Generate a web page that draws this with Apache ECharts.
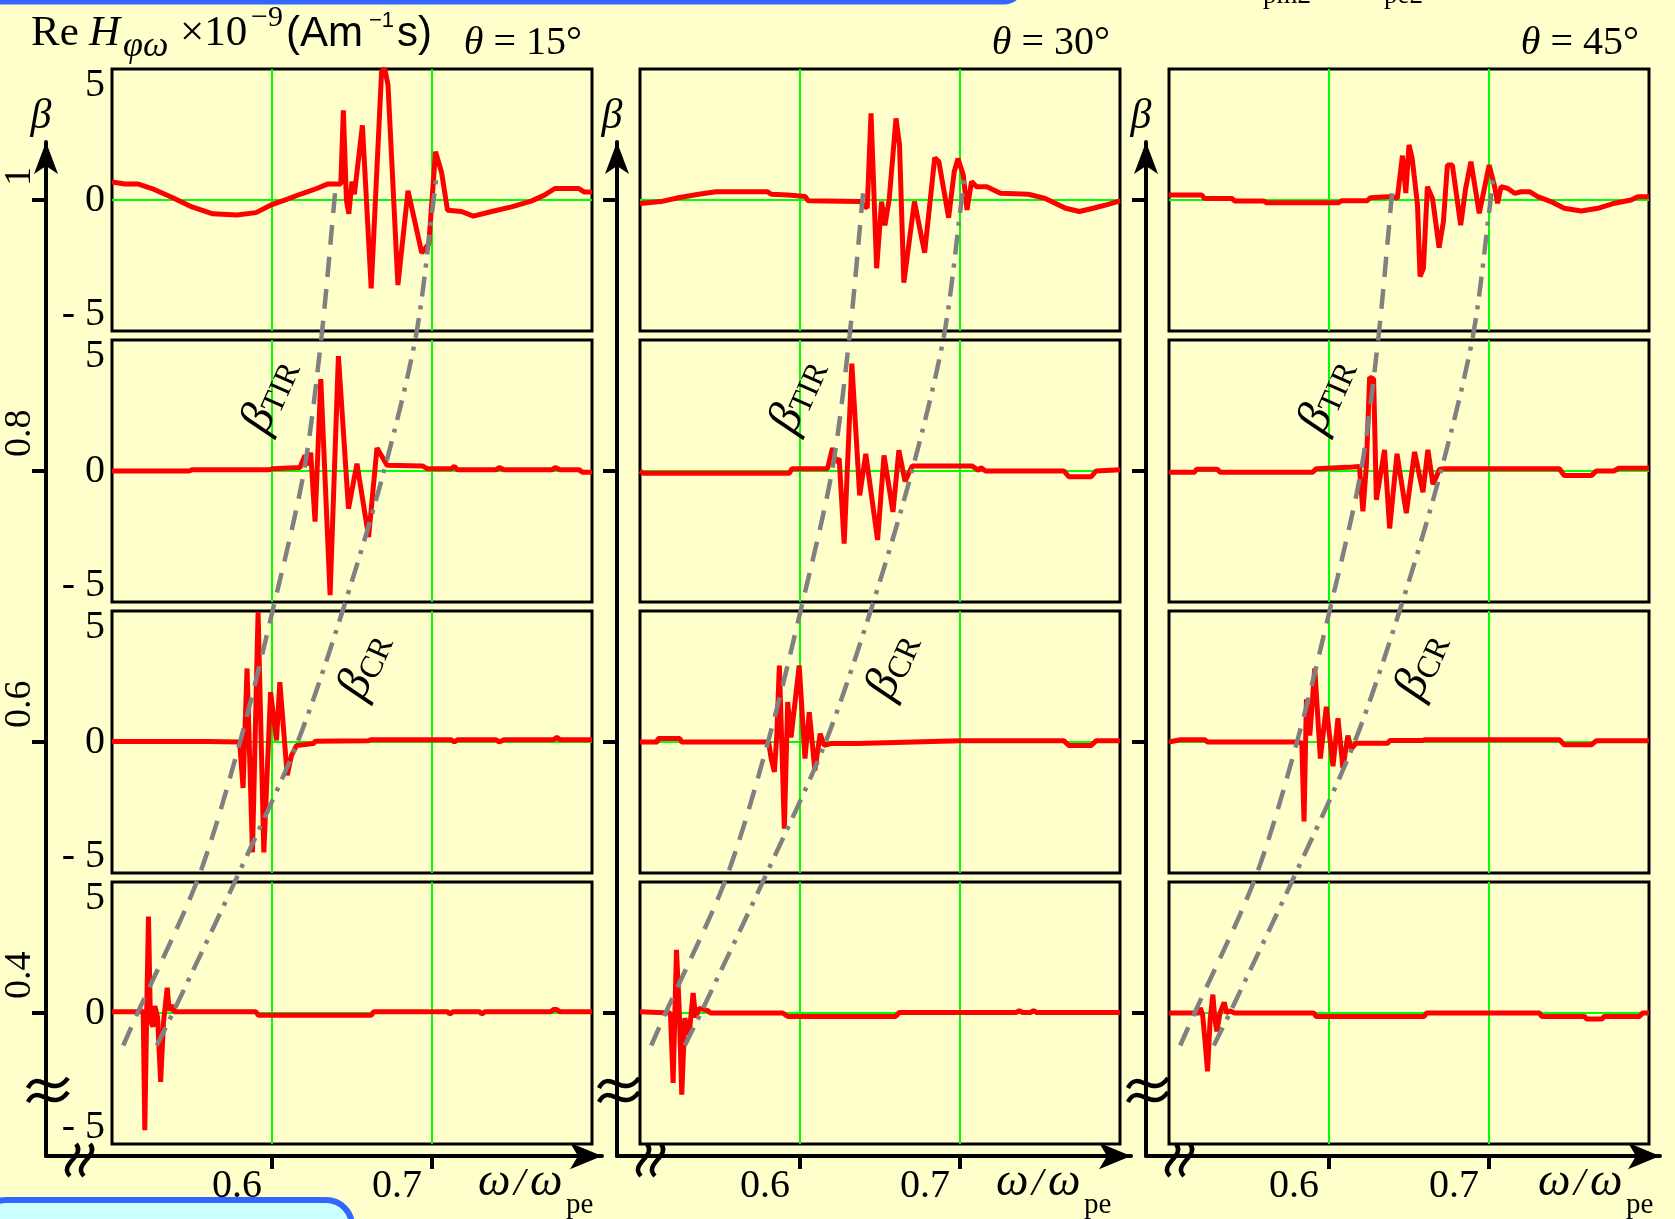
<!DOCTYPE html>
<html><head><meta charset="utf-8">
<script src="https://cdn.jsdelivr.net/npm/echarts@6/dist/echarts.min.js"></script>
<style>html,body{margin:0;padding:0;background:#FFFFCC;}#c{width:1675px;height:1219px;}</style>
</head><body><div id="c"></div>
<script>
// ---------------- data ----------------
const thetaDeg = [15, 30, 45];
const betaTicks = [1.0, 0.8, 0.6, 0.4];
const omegaTicks = [0.6, 0.7];
const valueTicks = [-5, 0, 5];

// Re H (x1e-9) vs omega/omega_pe ; theta = 15 deg, beta = 1.0 / 0.8 / 0.6 / 0.4
const p15_10 = [[0.500,0.78],[0.508,0.7],[0.516,0.7],[0.525,0.5],[0.538,0.1],[0.550,-0.3],[0.563,-0.6],[0.578,-0.65],[0.590,-0.55],[0.600,-0.2],[0.610,0.05],[0.618,0.26],[0.628,0.5],[0.635,0.7],[0.643,0.7],[0.6446,3.9],[0.6465,0.0],[0.648,-0.6],[0.650,0.8],[0.6515,0.25],[0.6565,3.25],[0.662,-3.85],[0.6685,5.6],[0.6705,5.7],[0.6725,5.0],[0.6787,-3.7],[0.685,0.4],[0.6936,-2.3],[0.698,-1.9],[0.7022,2.1],[0.706,1.2],[0.7097,-0.45],[0.7185,-0.5],[0.7258,-0.7],[0.7373,-0.5],[0.7497,-0.3],[0.762,-0.05],[0.770,0.2],[0.7768,0.5],[0.7917,0.5],[0.795,0.35],[0.800,0.35]];
const p15_08 = [[0.500,0.0],[0.548,0.0],[0.550,0.05],[0.598,0.05],[0.6007,0.1],[0.6175,0.15],[0.6206,0.68],[0.622,0.25],[0.6242,0.8],[0.6269,-2.2],[0.6305,4.0],[0.6363,-5.4],[0.6415,5.0],[0.6478,-1.64],[0.6531,0.32],[0.6604,-2.87],[0.6656,1.0],[0.6719,0.25],[0.694,0.22],[0.697,0.1],[0.712,0.1],[0.714,0.2],[0.716,0.05],[0.740,0.05],[0.742,0.15],[0.745,0.05],[0.775,0.05],[0.777,0.15],[0.780,0.05],[0.792,0.05],[0.794,-0.05],[0.800,-0.05]];
const p15_06 = [[0.500,0.02],[0.560,0.02],[0.5798,0.0],[0.5819,-2.0],[0.5844,3.2],[0.5878,-4.8],[0.5913,5.65],[0.5949,-4.8],[0.5991,2.17],[0.6028,0.07],[0.6049,2.6],[0.6095,-1.45],[0.6122,-0.58],[0.6154,-0.15],[0.6259,-0.07],[0.627,0.03],[0.660,0.05],[0.662,0.1],[0.712,0.1],[0.714,0.0],[0.716,0.1],[0.740,0.1],[0.742,0.0],[0.745,0.1],[0.776,0.1],[0.778,0.2],[0.780,0.1],[0.800,0.1]];
const p15_04 = [[0.500,0.05],[0.518,0.05],[0.5195,0.1],[0.5205,-5.1],[0.5218,0.5],[0.5228,4.2],[0.5240,-0.3],[0.5255,-0.6],[0.5268,0.3],[0.5285,-0.2],[0.5304,-3.0],[0.5322,-0.4],[0.5345,1.1],[0.5358,0.1],[0.5375,0.35],[0.539,0.05],[0.590,0.05],[0.5915,-0.1],[0.662,-0.1],[0.6635,0.05],[0.710,0.05],[0.711,-0.05],[0.713,0.05],[0.730,0.05],[0.731,-0.05],[0.733,0.05],[0.774,0.05],[0.776,0.15],[0.778,0.15],[0.780,0.05],[0.800,0.05]];

// theta = 30 deg
const p30_10 = [[0.500,-0.15],[0.513,-0.07],[0.524,0.1],[0.5367,0.25],[0.5475,0.36],[0.5797,0.36],[0.582,0.25],[0.5925,0.22],[0.6033,0.15],[0.605,-0.03],[0.6375,-0.07],[0.642,-0.36],[0.6444,3.77],[0.6479,-2.97],[0.651,-0.07],[0.6531,-1.1],[0.6558,0.07],[0.660,3.55],[0.6622,2.4],[0.6649,-3.6],[0.6715,-0.07],[0.6779,-2.3],[0.6842,1.84],[0.6868,1.67],[0.6929,-0.77],[0.6964,1.23],[0.6987,1.8],[0.702,1.1],[0.7044,-0.43],[0.7072,0.8],[0.7104,0.58],[0.7168,0.58],[0.7253,0.29],[0.7427,0.25],[0.7533,0.07],[0.766,-0.36],[0.7746,-0.5],[0.7832,-0.36],[0.792,-0.2],[0.800,-0.04]];
const p30_08 = [[0.500,0.0],[0.502,-0.1],[0.5933,-0.1],[0.595,0.1],[0.6172,0.1],[0.6203,1.0],[0.622,0.4],[0.6245,0.54],[0.6276,-3.16],[0.6324,4.67],[0.6373,-1.06],[0.6411,0.75],[0.6485,-3.0],[0.6525,0.68],[0.6581,-1.78],[0.6618,0.9],[0.6656,-0.45],[0.6701,0.22],[0.7074,0.22],[0.7116,0.03],[0.713,0.15],[0.716,0.0],[0.765,0.0],[0.768,-0.25],[0.782,-0.25],[0.785,0.0],[0.800,0.05]];
const p30_06 = [[0.500,0.0],[0.511,0.0],[0.5112,0.15],[0.5249,0.15],[0.526,0.0],[0.5804,0.0],[0.582,-0.72],[0.584,-1.3],[0.5855,0.3],[0.5871,3.33],[0.5886,0.0],[0.5902,-3.77],[0.5923,1.74],[0.5944,0.2],[0.5995,3.33],[0.6031,-0.72],[0.6058,1.3],[0.6093,-1.23],[0.6126,0.36],[0.6151,-0.15],[0.6193,-0.07],[0.6359,-0.07],[0.637,0.0],[0.700,0.05],[0.765,0.05],[0.768,-0.15],[0.782,-0.15],[0.785,0.05],[0.800,0.05]];
const p30_04 = [[0.500,0.05],[0.519,0.0],[0.5207,-3.04],[0.5228,2.75],[0.5245,0.2],[0.5261,-3.55],[0.528,-0.22],[0.5307,-0.94],[0.5332,0.87],[0.5348,-0.2],[0.5369,0.2],[0.5425,0.1],[0.544,0.0],[0.5892,0.0],[0.5923,-0.15],[0.6597,-0.15],[0.662,0.02],[0.735,0.02],[0.737,0.1],[0.739,0.02],[0.744,0.02],[0.746,0.1],[0.748,0.02],[0.800,0.02]];

// theta = 45 deg
const p45_10 = [[0.500,0.22],[0.5205,0.22],[0.522,0.07],[0.5393,0.07],[0.541,-0.04],[0.5591,-0.04],[0.561,-0.12],[0.606,-0.12],[0.608,-0.03],[0.6239,-0.03],[0.626,0.1],[0.6396,0.15],[0.6427,0.07],[0.6459,1.93],[0.648,0.3],[0.650,2.4],[0.652,1.8],[0.6553,-0.2],[0.6569,-3.33],[0.659,-2.97],[0.6615,0.58],[0.6647,0.07],[0.6688,-2.07],[0.6715,-0.94],[0.674,1.52],[0.6771,1.52],[0.6823,-1.09],[0.6854,0.5],[0.6887,1.67],[0.6939,-0.58],[0.6971,0.5],[0.7001,1.52],[0.7033,0.65],[0.7054,-0.14],[0.7075,0.58],[0.7118,0.5],[0.716,0.29],[0.7201,0.36],[0.7254,0.36],[0.7304,0.15],[0.7387,-0.07],[0.747,-0.36],[0.7576,-0.48],[0.768,-0.36],[0.7785,-0.14],[0.7888,0.0],[0.793,0.14],[0.800,0.14]];
const p45_08 = [[0.500,-0.05],[0.516,-0.05],[0.5173,0.08],[0.530,0.08],[0.532,-0.05],[0.5898,-0.05],[0.592,0.1],[0.615,0.17],[0.619,0.2],[0.6212,-1.75],[0.6233,0.17],[0.6254,4.08],[0.6279,4.0],[0.6296,-1.25],[0.6347,0.92],[0.6379,-2.5],[0.6425,0.75],[0.6483,-1.83],[0.6535,0.83],[0.6587,-0.92],[0.6618,0.92],[0.665,-0.58],[0.6691,0.08],[0.672,0.1],[0.744,0.1],[0.747,-0.2],[0.764,-0.2],[0.767,0.0],[0.778,0.0],[0.781,0.12],[0.800,0.12]];
const p45_06 = [[0.500,0.0],[0.507,0.1],[0.5225,0.1],[0.524,0.0],[0.5807,0.0],[0.583,-0.05],[0.5844,-3.46],[0.5859,1.86],[0.588,0.28],[0.5911,3.2],[0.5946,-0.72],[0.5983,1.53],[0.6025,-1.05],[0.6056,1.03],[0.6087,-1.13],[0.6118,0.28],[0.6139,-0.3],[0.617,-0.05],[0.6368,-0.05],[0.638,0.07],[0.6586,0.07],[0.660,0.1],[0.744,0.1],[0.747,-0.12],[0.764,-0.12],[0.767,0.05],[0.800,0.05]];
const p45_04 = [[0.500,0.0],[0.519,0.0],[0.5195,0.22],[0.521,-0.07],[0.5225,-1.2],[0.5241,-2.54],[0.5257,-0.29],[0.5274,0.8],[0.5287,-0.29],[0.5299,-0.8],[0.5319,0.0],[0.5345,0.46],[0.536,0.0],[0.538,0.1],[0.541,0.0],[0.5905,0.0],[0.592,-0.15],[0.6594,-0.15],[0.661,0.0],[0.7315,0.0],[0.733,-0.15],[0.7597,-0.15],[0.761,-0.26],[0.7706,-0.26],[0.772,-0.15],[0.7941,-0.15],[0.796,0.0],[0.800,0.0]];

// beta_TIR and beta_CR curves: [omega/omega_pe, beta]
const betaTIR = [[0.507,0.376],[0.516,0.40],[0.554,0.50],[0.580,0.60],[0.601,0.70],[0.620,0.80],[0.631,0.90],[0.639,1.00],[0.640,1.012]];
const betaCR  = [[0.528,0.376],[0.538,0.40],[0.578,0.50],[0.616,0.60],[0.645,0.70],[0.670,0.80],[0.690,0.90],[0.701,1.00],[0.703,1.02]];

const panelData = [[p15_10,p15_08,p15_06,p15_04],[p30_10,p30_08,p30_06,p30_04],[p45_10,p45_08,p45_06,p45_04]];

// ---------------- layout ----------------
const colLeft = [112, 640, 1169];
const panelW = 480, panelH = 262;
const rowTop = [69, 340, 611, 882];
const axisX = [46, 617, 1146];
const axisRight = [602, 1131, 1660];
const axisTop = 142, axisBottom = 1156;
const pxPerOmega = panelW / 0.3;
const pxPerBeta = (rowTop[1] - rowTop[0]) / 0.2;
const zeroTop = rowTop[0] + panelH / 2, zeroBot = rowTop[3] + panelH / 2;
const betaMin = 0.4 - (axisBottom - zeroBot) / pxPerBeta;
const betaMax = 1.0 + (zeroTop - axisTop) / pxPerBeta;
const omegaLabelX = [478, 996, 1538];

const serif = '"Liberation Serif","Times New Roman",serif';
const sans = '"Liberation Sans",Arial,sans-serif';

const grids = [], xAxes = [], yAxes = [], series = [];
for (let c = 0; c < 3; c++) {
  for (let r = 0; r < 4; r++) {
    const gi = grids.length;
    grids.push({left: colLeft[c], top: rowTop[r], width: panelW, height: panelH, show: true,
      borderColor: '#000', borderWidth: 3, backgroundColor: 'transparent'});
    xAxes.push({gridIndex: gi, type: 'value', min: 0.5, max: 0.8, interval: 0.1,
      axisLine: {show: false}, axisTick: {show: false}, axisLabel: {show: false},
      splitLine: {show: true, showMinLine: false, showMaxLine: false, lineStyle: {color: '#00FF00', width: 2}}});
    yAxes.push({gridIndex: gi, type: 'value', min: -5.7, max: 5.7, interval: 5.7,
      axisLine: {show: false}, axisTick: {show: false},
      axisLabel: {show: c === 0, customValues: valueTicks, margin: 7, color: '#000', fontFamily: serif, fontSize: 40,
        formatter: v => v < 0 ? '- ' + (-v) : String(v)},
      splitLine: {show: true, showMinLine: false, showMaxLine: false, lineStyle: {color: '#00FF00', width: 2}}});
    series.push({type: 'line', xAxisIndex: gi, yAxisIndex: gi, data: panelData[c][r], symbol: 'none',
      lineStyle: {color: '#FF0000', width: 5}, z: 3, clip: true});
  }
}
for (let c = 0; c < 3; c++) {
  const gi = grids.length;
  grids.push({left: axisX[c], top: axisTop, width: axisRight[c] - axisX[c], height: axisBottom - axisTop, show: false});
  xAxes.push({gridIndex: gi, type: 'value', position: 'bottom',
    min: 0.5 - (colLeft[c] - axisX[c]) / pxPerOmega, max: 0.5 + (axisRight[c] - colLeft[c]) / pxPerOmega,
    axisLine: {show: true, onZero: false, symbol: ['none', 'arrow'], symbolSize: [20, 32], lineStyle: {color: '#000', width: 4}},
    axisTick: {show: true, customValues: omegaTicks, length: 13, lineStyle: {color: '#000', width: 4}},
    axisLabel: {show: true, customValues: omegaTicks, formatter: v => v.toFixed(1), color: '#000', fontFamily: serif, fontSize: 40,
      align: 'right', verticalAlign: 'top', margin: 10, padding: [0, 10, 0, 0]},
    splitLine: {show: false}});
  yAxes.push({gridIndex: gi, type: 'value', position: 'left', min: betaMin, max: betaMax,
    name: 'β', nameLocation: 'end', nameGap: 4,
    nameTextStyle: {color: '#000', fontFamily: serif, fontStyle: 'italic', fontSize: 42, align: 'center', padding: [0, 10, 0, 0]},
    axisLine: {show: true, onZero: false, symbol: ['none', 'arrow'], symbolSize: [18, 32], lineStyle: {color: '#000', width: 4}},
    axisTick: {show: true, customValues: betaTicks, length: 14, lineStyle: {color: '#000', width: 4}},
    axisLabel: {show: c === 0, customValues: betaTicks, rotate: 90, align: 'left', verticalAlign: 'middle', margin: 26,
      padding: [0, 0, 0, 14], color: '#000', fontFamily: serif, fontSize: 38,
      formatter: v => (Math.abs(v - 1) < 1e-9 ? '1' : v.toFixed(1))},
    splitLine: {show: false}});
  series.push({type: 'line', xAxisIndex: gi, yAxisIndex: gi, data: betaTIR, symbol: 'none', smooth: 0.3, clip: false,
    lineStyle: {color: '#808080', width: 4.5, type: [20, 12]}, z: 4});
  series.push({type: 'line', xAxisIndex: gi, yAxisIndex: gi, data: betaCR, symbol: 'none', smooth: 0.3, clip: false,
    lineStyle: {color: '#808080', width: 4.5, type: [20, 9, 4, 9]}, z: 4});
}

// ---------------- text & decorations ----------------
function txt(text, x, base, size, o) {
  o = o || {};
  return {type: 'text', x: x, y: base - 0.33 * size, z: 20, silent: true,
    style: {text: text, fontSize: size, fontFamily: o.sans ? sans : serif, fontStyle: o.italic ? 'italic' : 'normal',
      fill: '#000', align: o.align || 'left', verticalAlign: 'middle'}};
}
function curve(x1, y1, cx1, cy1, cx2, cy2, x2, y2) {
  return {type: 'bezierCurve', z: 20, silent: true,
    shape: {x1: x1, y1: y1, cpx1: cx1, cpy1: cy1, cpx2: cx2, cpy2: cy2, x2: x2, y2: y2},
    style: {stroke: '#000', lineWidth: 4.5, fill: null}};
}
const graphics = [];
graphics.push({type: 'rect', z: 15, silent: true, shape: {x: -20, y: -60, width: 1042, height: 62, r: 18},
  style: {fill: '#CCFFFF', stroke: '#3366FF', lineWidth: 5}});
graphics.push({type: 'rect', z: 15, silent: true, shape: {x: -20, y: 1200, width: 372, height: 80, r: 26},
  style: {fill: '#CCFFFF', stroke: '#3366FF', lineWidth: 6}});
graphics.push(txt('pm2', 1263, 5, 27));
graphics.push(txt('pe2', 1384, 5, 27));
// title
graphics.push(txt('Re', 31, 48, 43));
graphics.push(txt('H', 89, 48, 43, {italic: true}));
graphics.push(txt('φω', 123, 58, 36, {italic: true}));
graphics.push(txt('×10', 180, 48, 43));
graphics.push(txt('−9', 251, 28, 30));
graphics.push(txt('(Am', 286, 48, 42, {sans: true}));
graphics.push(txt('−1', 369, 28, 22, {sans: true}));
graphics.push(txt('s)', 397, 48, 42, {sans: true}));
for (let c = 0; c < 3; c++) {
  const right = colLeft[c] + panelW;
  graphics.push({type: 'text', x: right - 10, y: 57 - 0.33 * 40, z: 20, silent: true,
    style: {text: '{i|θ} = ' + thetaDeg[c] + '°', fontSize: 40, fontFamily: serif, fill: '#000', align: 'right', verticalAlign: 'middle',
      rich: {i: {fontStyle: 'italic', fontFamily: serif, fontSize: 40, fill: '#000'}}}});
  const rot = 66 * Math.PI / 180;
  graphics.push({type: 'text', x: colLeft[c] + 158, y: 396, rotation: rot, z: 20, silent: true,
    style: {text: '{b|β}{s|TIR}', align: 'center', verticalAlign: 'middle', fill: '#000',
      rich: {b: {fontFamily: serif, fontStyle: 'italic', fontSize: 48, fill: '#000'},
             s: {fontFamily: serif, fontSize: 32, fill: '#000', verticalAlign: 'bottom'}}}});
  graphics.push({type: 'text', x: colLeft[c] + 253, y: 666, rotation: rot, z: 20, silent: true,
    style: {text: '{b|β}{s|CR}', align: 'center', verticalAlign: 'middle', fill: '#000',
      rich: {b: {fontFamily: serif, fontStyle: 'italic', fontSize: 48, fill: '#000'},
             s: {fontFamily: serif, fontSize: 32, fill: '#000', verticalAlign: 'bottom'}}}});
  // omega / omega_pe
  const ox = omegaLabelX[c];
  graphics.push(txt('ω', ox, 1198, 46, {italic: true}));
  graphics.push(txt('/', ox + 36, 1198, 40, {italic: true}));
  graphics.push(txt('ω', ox + 52, 1198, 46, {italic: true}));
  graphics.push(txt('pe', ox + 88, 1215, 29));
  // axis break marks
  const ax = axisX[c], ay = 1084;
  graphics.push(curve(ax - 18, ay + 4, ax - 8, ay - 16, ax + 6, ay + 16, ax + 22, ay - 6));
  graphics.push(curve(ax - 18, ay + 18, ax - 8, ay - 2, ax + 6, ay + 30, ax + 22, ay + 8));
  const bx = ax + 32, by = 1160;
  graphics.push(curve(bx - 8, by + 16, bx - 20, by + 4, bx + 8, by - 4, bx - 2, by - 16));
  graphics.push(curve(bx + 6, by + 16, bx - 6, by + 4, bx + 22, by - 4, bx + 12, by - 16));
}

const chart = echarts.init(document.getElementById('c'), null, {renderer: 'canvas'});
chart.setOption({
  backgroundColor: '#FFFFCC',
  animation: false,
  grid: grids, xAxis: xAxes, yAxis: yAxes, series: series,
  graphic: {elements: graphics}
});
</script></body></html>
